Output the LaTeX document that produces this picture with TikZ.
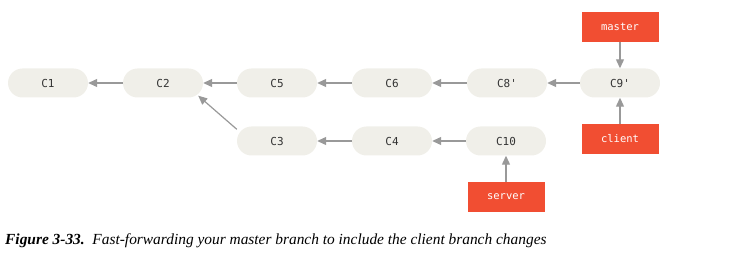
\documentclass[tikz,border=0pt]{standalone}
\usepackage{fontspec}
\setmainfont{Liberation Serif}
\setmonofont{DejaVu Sans Mono}
\usetikzlibrary{positioning,arrows.meta,calc}
\definecolor{commitbg}{HTML}{F0EFE9}
\definecolor{branchred}{HTML}{F14E32}
\definecolor{linkgray}{HTML}{999999}
\tikzset{
  commit/.style={fill=commitbg,rounded corners=14.5pt,minimum width=80pt,
    minimum height=29pt,inner sep=0pt,text=black!80,font=\ttfamily\fontsize{11}{12}\selectfont},
  branch/.style={fill=branchred,minimum width=77pt,minimum height=30pt,
    inner sep=0pt,text=white,font=\ttfamily\fontsize{10.5}{12}\selectfont},
  parent/.style={draw=linkgray,line width=1.2pt,-{Triangle[length=9pt,width=8pt]}}
}
\begin{document}
\begin{tikzpicture}[x=1pt,y=-1pt]
\useasboundingbox (0,0) rectangle (742,259);

% Commits on the main line
\node[commit] (C1) at (48,83) {C1};
\node[commit] (C2) at (163,83) {C2};
\node[commit] (C5) at (277,83) {C5};
\node[commit] (C6) at (392,83) {C6};
\node[commit] (C8) at (507,83) {C8'};
\node[commit] (C9) at (620,83) {C9'};

% Commits on the server line
\node[commit] (C3) at (277,141) {C3};
\node[commit] (C4) at (392,141) {C4};
\node[commit] (C10) at (506,141) {C10};

% Branch pointers
\node[branch] (master) at (620,27) {master};
\node[branch] (client) at (620,139) {client};
\node[branch] (server) at (506,197) {server};

% Parent links
\draw[parent] (C2) -- (C1);
\draw[parent] (C5) -- (C2);
\draw[parent] (C6) -- (C5);
\draw[parent] (C8) -- (C6);
\draw[parent] (C9) -- (C8);
\draw[parent] ($(C3.north west)+(0,3)$) -- ($(C2.south east)+(-5,-2)$);
\draw[parent] (C4) -- (C3);
\draw[parent] (C10) -- (C4);

% Branches point at their commits
\draw[parent] (master) -- (C9);
\draw[parent] (client) -- (C9);
\draw[parent] (server) -- (C10);

\node[anchor=base west,inner sep=0pt,font=\itshape\fontsize{15.4}{17}\selectfont] (caption) at (5,244)
  {\textbf{Figure 3-33.}\enspace Fast-forwarding your master branch to include the client branch changes};
\end{tikzpicture}
\end{document}
